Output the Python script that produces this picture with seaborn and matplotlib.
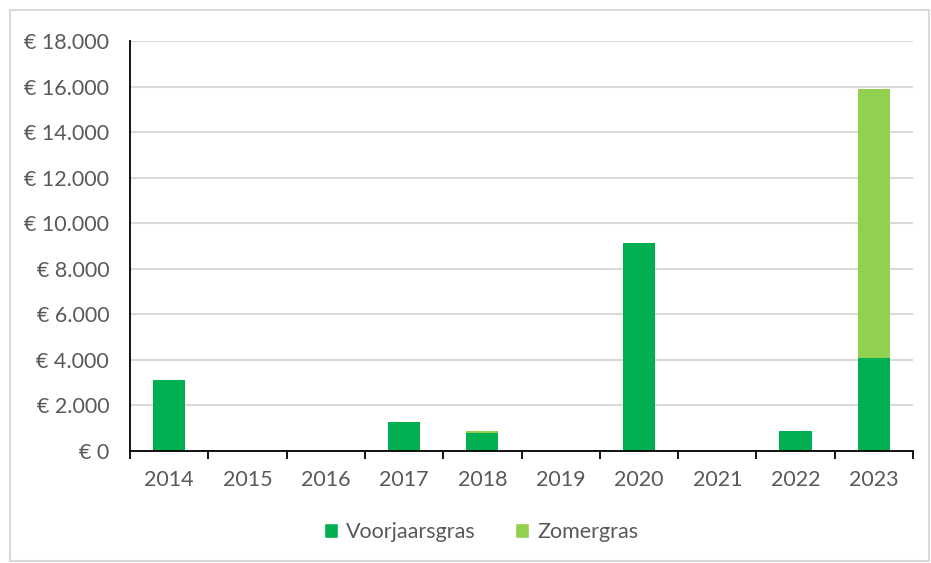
import pandas as pd
import seaborn as sns
import matplotlib.pyplot as plt
from matplotlib.patches import Patch, Rectangle
from matplotlib.ticker import FuncFormatter, MultipleLocator, FixedLocator

years = ["2014", "2015", "2016", "2017", "2018", "2019", "2020", "2021", "2022", "2023"]
voorjaarsgras = [3100, 0, 0, 1270, 800, 0, 9150, 0, 880, 4100]
zomergras = [0, 0, 0, 0, 100, 0, 0, 0, 0, 11800]

dark_green = "#00B050"
light_green = "#92D050"
text_grey = "#595959"

df = pd.DataFrame({"Jaar": years, "Voorjaarsgras": voorjaarsgras, "Zomergras": zomergras})
df["Totaal"] = df["Voorjaarsgras"] + df["Zomergras"]

sns.set_style("white")
plt.rcParams["font.family"] = ["Lato", "DejaVu Sans"]

fig = plt.figure(figsize=(9.31, 5.63), dpi=100)
ax = fig.add_axes([130 / 931, 1 - 451 / 563, (913 - 130) / 931, (451 - 41) / 563])

# stacked: total in light green, spring grass drawn over it
sns.barplot(data=df, x="Jaar", y="Totaal", order=years, color=light_green,
            width=0.41, linewidth=0, saturation=1, ax=ax, zorder=3)
sns.barplot(data=df, x="Jaar", y="Voorjaarsgras", order=years, color=dark_green,
            width=0.41, linewidth=0, saturation=1, ax=ax, zorder=4)

ax.set_xlim(-0.5, len(years) - 0.5)
ax.set_ylim(0, 18000)
ax.yaxis.set_major_locator(MultipleLocator(2000))
ax.yaxis.set_major_formatter(FuncFormatter(lambda v, p: "€ " + f"{int(v):,}".replace(",", ".")))
ax.grid(axis="y", color="#D9D9D9", linewidth=1.5, zorder=0)
ax.set_axisbelow(True)

ax.set_xlabel("")
ax.set_ylabel("")
for s in ["top", "right"]:
    ax.spines[s].set_visible(False)
for s in ["left", "bottom"]:
    ax.spines[s].set_color("black")
    ax.spines[s].set_linewidth(1.3)
    ax.spines[s].set_zorder(5)

ax.tick_params(axis="y", length=0, pad=15, labelsize=15.5, labelcolor=text_grey)
ax.tick_params(axis="x", which="major", length=0, pad=14, labelsize=15.5, labelcolor=text_grey)
ax.xaxis.set_minor_locator(FixedLocator([i - 0.5 for i in range(len(years) + 1)]))
ax.tick_params(axis="x", which="minor", bottom=True, length=6, width=1.3, color="black", direction="out")

handles = [Patch(facecolor=dark_green, label="Voorjaarsgras"),
           Patch(facecolor=light_green, label="Zomergras")]
leg = fig.legend(handles=handles, loc="center", bbox_to_anchor=(481 / 931, 1 - 532 / 563),
                 ncol=2, frameon=False, fontsize=15.5, handlelength=0.65, handleheight=0.65,
                 handletextpad=0.4, columnspacing=1.8)
for t in leg.get_texts():
    t.set_color(text_grey)

fig.patches.append(Rectangle((10 / 931, 2 / 563), 919 / 931, 551 / 563, transform=fig.transFigure,
                             fill=False, edgecolor="#D9D9D9", linewidth=1.5))

fig.savefig("out.png", dpi=100)
